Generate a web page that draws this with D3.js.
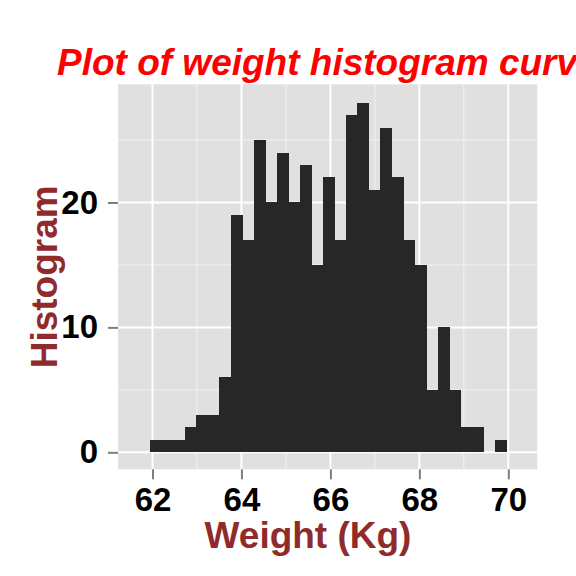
<!DOCTYPE html>
<html>
<head>
<meta charset="utf-8">
<script src="https://cdn.jsdelivr.net/npm/d3@7"></script>
<style>
  body { margin: 0; background: #fff; }
  svg { display: block; }
</style>
</head>
<body>
<div id="chart"></div>
<script>
// histogram bins (left edges + last right edge) and counts
const binEdges = [61.944, 62.203, 62.462, 62.720, 62.979, 63.238, 63.497, 63.756,
    64.014, 64.273, 64.532, 64.791, 65.050, 65.308, 65.567, 65.826, 66.085,
    66.344, 66.602, 66.861, 67.120, 67.379, 67.638, 67.896, 68.155, 68.414,
    68.673, 68.932, 69.190, 69.449, 69.708, 69.967];
const counts = [1, 1, 1, 2, 3, 3, 6, 19, 17, 25, 20, 24, 20, 23, 15, 22, 17,
    27, 28, 21, 26, 22, 17, 15, 5, 10, 5, 2, 2, 0, 1];
const xTicks = [62, 64, 66, 68, 70];
const xMinor = [63, 65, 67, 69];
const yTicks = [0, 10, 20];
const yMinor = [5, 15, 25];

const WIDTH = 576, HEIGHT = 576;
const margin = {top: 84.3, right: 38.7, bottom: 106.7, left: 118};
const width = WIDTH - margin.left - margin.right;
const height = HEIGHT - margin.top - margin.bottom;
const FONT = "'Liberation Sans', Arial, Helvetica, sans-serif";

const bins = counts.map((c, i) => ({x0: binEdges[i], x1: binEdges[i + 1], count: c}));

const svg = d3.select("#chart").append("svg")
    .attr("width", WIDTH)
    .attr("height", HEIGHT)
    .style("font-family", FONT);

const g = svg.append("g")
    .attr("transform", "translate(" + margin.left + "," + margin.top + ")");

const x = d3.scaleLinear().domain([61.224, 70.652]).range([0, width]);
const y = d3.scaleLinear().domain([-1.36, 29.46]).range([height, 0]);

// panel
g.append("rect")
    .attr("width", width)
    .attr("height", height)
    .attr("fill", "#e0e0e0");

// minor grid
g.selectAll(".xminor").data(xMinor).enter().append("line")
    .attr("x1", d => x(d)).attr("x2", d => x(d))
    .attr("y1", 0).attr("y2", height)
    .attr("stroke", "#f2f2f2").attr("stroke-width", 1);
g.selectAll(".yminor").data(yMinor).enter().append("line")
    .attr("y1", d => y(d)).attr("y2", d => y(d))
    .attr("x1", 0).attr("x2", width)
    .attr("stroke", "#f2f2f2").attr("stroke-width", 1);

// major grid
g.selectAll(".xmajor").data(xTicks).enter().append("line")
    .attr("x1", d => x(d)).attr("x2", d => x(d))
    .attr("y1", 0).attr("y2", height)
    .attr("stroke", "#ffffff").attr("stroke-width", 2);
g.selectAll(".ymajor").data(yTicks).enter().append("line")
    .attr("y1", d => y(d)).attr("y2", d => y(d))
    .attr("x1", 0).attr("x2", width)
    .attr("stroke", "#ffffff").attr("stroke-width", 2);

// bars
g.selectAll(".bar").data(bins.filter(d => d.count > 0)).enter().append("rect")
    .attr("class", "bar")
    .attr("x", d => x(d.x0))
    .attr("width", d => x(d.x1) - x(d.x0) + 0.5)
    .attr("y", d => y(d.count))
    .attr("height", d => y(0) - y(d.count))
    .attr("fill", "#272727")
    .attr("shape-rendering", "crispEdges");

// axes
const xAxis = d3.axisBottom(x).tickValues(xTicks).tickSize(10).tickPadding(8);
const yAxis = d3.axisLeft(y).tickValues(yTicks).tickSize(10).tickPadding(10);

const gx = g.append("g").attr("transform", "translate(0," + height + ")").call(xAxis);
const gy = g.append("g").call(yAxis);

[gx, gy].forEach(a => {
    a.select(".domain").remove();
    a.selectAll(".tick line").attr("stroke", "#7f7f7f").attr("stroke-width", 2);
    a.selectAll(".tick text")
        .attr("fill", "#000")
        .style("font-family", FONT)
        .style("font-size", "33px")
        .style("font-weight", "bold");
});

// titles
svg.append("text")
    .attr("x", 57)
    .attr("y", 75)
    .attr("fill", "#ff0000")
    .style("font-size", "37px")
    .style("font-weight", "bold")
    .style("font-style", "italic")
    .text("Plot of weight histogram curve");

svg.append("text")
    .attr("x", 308)
    .attr("y", 548)
    .attr("text-anchor", "middle")
    .attr("fill", "#912b2b")
    .style("font-size", "37px")
    .style("font-weight", "bold")
    .text("Weight (Kg)");

svg.append("text")
    .attr("transform", "translate(56.7," + (margin.top + height / 2) + ") rotate(-90)")
    .attr("text-anchor", "middle")
    .attr("fill", "#912b2b")
    .style("font-size", "37px")
    .style("font-weight", "bold")
    .text("Histogram");
</script>
</body>
</html>
